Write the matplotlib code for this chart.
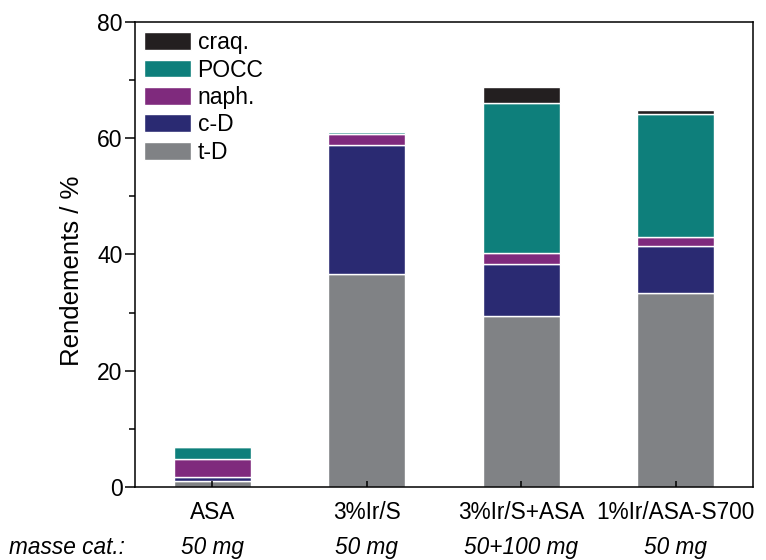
import numpy as np
import matplotlib.pyplot as plt
from matplotlib.ticker import MultipleLocator

plt.rcParams['font.family'] = ['Liberation Sans', 'DejaVu Sans']

catalysts = ["ASA", "3%Ir/S", "3%Ir/S+ASA", "1%Ir/ASA-S700"]
masses = ["50 mg", "50 mg", "50+100 mg", "50 mg"]

# yields (%) per product, bottom to top
t_D = [1.0, 36.6, 29.5, 33.3]
c_D = [0.7, 22.3, 8.9, 8.1]
naph = [3.1, 1.8, 1.9, 1.6]
pocc = [2.0, 0.3, 25.7, 21.1]
craq = [0.3, 0.0, 2.9, 0.8]

series = [("t-D", t_D, "#808285"),
          ("c-D", c_D, "#2a2a72"),
          ("naph.", naph, "#7f2a7d"),
          ("POCC", pocc, "#0e7f7b"),
          ("craq.", craq, "#231f20")]

fig = plt.figure(figsize=(7.66, 5.6), dpi=100)
ax = fig.add_axes([0.1762, 0.1304, 0.8068, 0.8303])

x = np.arange(len(catalysts))
bottom = np.zeros(len(catalysts))
handles = []
for name, vals, col in series:
    b = ax.bar(x, vals, width=0.5, bottom=bottom, color=col,
               edgecolor="white", linewidth=1.0, label=name)
    handles.append(b)
    bottom += np.array(vals)

ax.set_xlim(-0.5, 3.5)
ax.set_ylim(0, 80)
ax.set_xticks(x)
ax.set_xticklabels(catalysts, fontsize=16.3)
ax.yaxis.set_major_locator(MultipleLocator(20))
ax.yaxis.set_minor_locator(MultipleLocator(10))
ax.tick_params(axis="y", which="major", direction="out", length=7, width=1.1,
               labelsize=16.5, pad=2)
ax.tick_params(axis="y", which="minor", direction="out", length=4, width=1.1)
ax.tick_params(axis="x", which="major", direction="in", length=4, width=1.1,
               pad=10)
for s in ax.spines.values():
    s.set_linewidth(1.1)

ax.set_ylabel("Rendements / %", fontsize=18.5)
ax.yaxis.set_label_coords(-0.082, 0.465)

# catalyst mass row under the axis
ax.text(-0.94, -0.13, "masse cat.:", transform=ax.get_xaxis_transform(),
        ha="center", va="center", fontsize=16.3, style="italic", clip_on=False)
for xi, m in zip(x, masses):
    ax.text(xi, -0.13, m, transform=ax.get_xaxis_transform(),
            ha="center", va="center", fontsize=16.3, style="italic", clip_on=False)

ax.legend(handles[::-1], [s[0] for s in series][::-1], loc="upper left",
          frameon=False, fontsize=16.5, handlelength=2.05, handleheight=0.82,
          labelspacing=0.19, handletextpad=0.28, borderaxespad=0.15,
          borderpad=0.25)

fig.savefig("out.png", dpi=100)
